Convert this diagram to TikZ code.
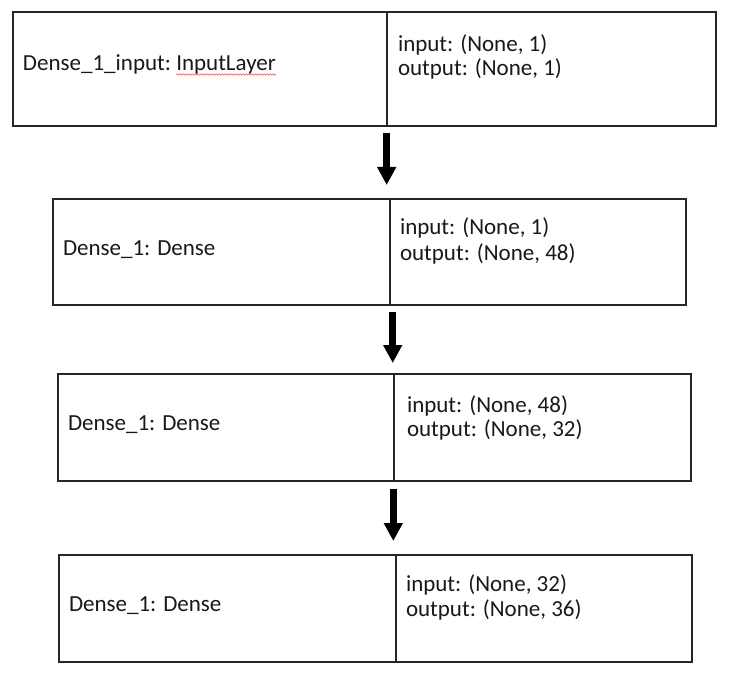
\documentclass[tikz,border=0pt]{standalone}
\usepackage{fontspec}
\setmainfont{Carlito}
\usetikzlibrary{arrows.meta,decorations.pathmorphing}
\begin{document}
\begin{tikzpicture}[x=1pt,y=-1pt,
  cell/.style={draw=black!85, line width=1.3pt, rectangle, inner sep=0pt, outer sep=0pt, anchor=north west},
  txt/.style={anchor=base west, inner sep=0pt, outer sep=0pt, text=black!90, font=\fontsize{23}{24}\selectfont},
  flow/.style={draw=black, line width=6.5pt, -{Triangle[width=18pt,length=18pt]}},
  spell/.style={draw=red!70, line width=0.6pt, decorate, decoration={snake, amplitude=0.8pt, segment length=3pt}}]

\useasboundingbox[fill=white] (0,0) rectangle (739,687);

% layer 1: input layer
\node[cell, minimum width=374pt, minimum height=114pt] (l1) at (13,12) {};
\node[cell, minimum width=329pt, minimum height=114pt] (r1) at (387,12) {};
\node[txt] (n1a) at (23,71) {Dense\_1\_input:\kern0.226em};
\node[txt] (n1b) at (n1a.base east) {InputLayer};
\draw[spell] ([yshift=-3.5pt]n1b.base west) -- ([yshift=-3.5pt]n1b.base east);
\node[txt] (i1) at (398,52) {input: (None, 1)};
\node[txt] (o1) at (398,76) {output: (None, 1)};

% layer 2
\node[cell, minimum width=337pt, minimum height=106pt] (l2) at (53,199) {};
\node[cell, minimum width=296pt, minimum height=106pt] (r2) at (390,199) {};
\node[txt] (n2) at (63,255) {Dense\_1: Dense};
\node[txt] (i2) at (400,235) {input: (None, 1)};
\node[txt] (o2) at (400,260) {output: (None, 48)};

% layer 3
\node[cell, minimum width=336pt, minimum height=107pt] (l3) at (58,374) {};
\node[cell, minimum width=297pt, minimum height=107pt] (r3) at (394,374) {};
\node[txt] (n3) at (68,430) {Dense\_1: Dense};
\node[txt] (i3) at (407,412) {input: (None, 48)};
\node[txt] (o3) at (407,436) {output: (None, 32)};

% layer 4
\node[cell, minimum width=337pt, minimum height=107pt] (l4) at (59,555) {};
\node[cell, minimum width=296pt, minimum height=107pt] (r4) at (396,555) {};
\node[txt] (n4) at (69,611) {Dense\_1: Dense};
\node[txt] (i4) at (406,591) {input: (None, 32)};
\node[txt] (o4) at (406,616) {output: (None, 36)};

% arrows between layers
\draw[flow] ([xshift=-0.3pt,yshift=-7pt]r1.south west) -- ++(0,52);
\draw[flow] ([xshift=2.7pt,yshift=-7pt]r2.south west) -- ++(0,51);
\draw[flow] ([xshift=-0.7pt,yshift=-8pt]r3.south west) -- ++(0,52);
\end{tikzpicture}
\end{document}
